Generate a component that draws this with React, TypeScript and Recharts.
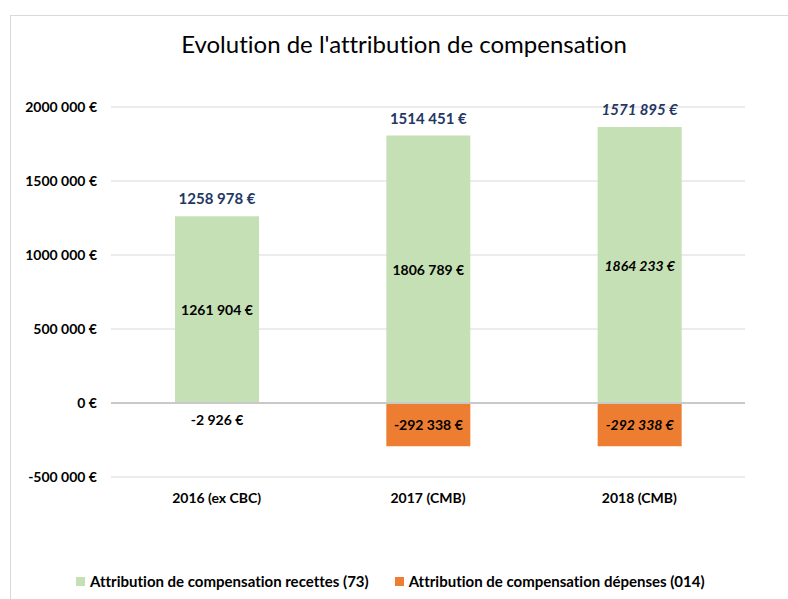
import React from 'react';
import { BarChart, Bar, XAxis, YAxis, CartesianGrid, Legend, LabelList, ReferenceLine } from 'recharts';

const categories = ['2016 (ex CBC)', '2017 (CMB)', '2018 (CMB)'];
const recettes = [1261904, 1806789, 1864233];
const depenses = [-2926, -292338, -292338];
const italicYears = [false, false, true];
const yTicks = [-500000, 0, 500000, 1000000, 1500000, 2000000];

const seriesNames = {
  recettes: 'Attribution de compensation recettes (73)',
  depenses: 'Attribution de compensation dépenses (014)',
};

const GREEN = '#C5E0B4';
const ORANGE = '#ED7D31';
const NAVY = '#1F3864';
const FONT = 'Lato, "Open Sans", sans-serif';

const data = categories.map((name, i) => ({
  name,
  recettes: recettes[i],
  depenses: depenses[i],
  total: recettes[i] + depenses[i],
}));

// excel shows "2000 000 €" style, only last group split
const fmt = (v: number) => {
  const sign = v < 0 ? '-' : '';
  const a = Math.abs(v);
  if (a < 1000) return `${sign}${a} €`;
  const th = Math.floor(a / 1000);
  const rest = String(a % 1000).padStart(3, '0');
  return `${sign}${th} ${rest} €`;
};

const TotalLabel = (props: any) => {
  const { x, y, width, index } = props;
  return (
    <text
      x={x + width / 2}
      y={y - 18}
      textAnchor="middle"
      dominantBaseline="central"
      fill={NAVY}
      fontFamily={FONT}
      fontWeight="bold"
      fontStyle={italicYears[index] ? 'italic' : 'normal'}
      fontSize={15}
    >
      {fmt(data[index].total)}
    </text>
  );
};

const InnerLabel = (props: any) => {
  const { x, y, width, height, index, value } = props;
  const h = Math.abs(height);
  const top = Math.min(y, y + height);
  const cy = h < 12 ? top + 16 : top + h / 2;
  return (
    <text
      x={x + width / 2}
      y={cy}
      textAnchor="middle"
      dominantBaseline="central"
      fill="#000"
      fontFamily={FONT}
      fontWeight="bold"
      fontStyle={italicYears[index] ? 'italic' : 'normal'}
      fontSize={14}
    >
      {fmt(value)}
    </text>
  );
};

const LegendContent = () => (
  <div style={{ display: 'flex', alignItems: 'center', fontFamily: FONT, fontWeight: 'bold', fontSize: 15, color: '#000', paddingLeft: 76 }}>
    <span style={{ width: 9, height: 9, background: GREEN, display: 'inline-block', marginRight: 5 }} />
    <span style={{ marginRight: 26 }}>{seriesNames.recettes}</span>
    <span style={{ width: 9, height: 9, background: ORANGE, display: 'inline-block', marginRight: 5 }} />
    <span>{seriesNames.depenses}</span>
  </div>
);

export default function App() {
  return (
    <div style={{ position: 'absolute', left: 0, top: 0, width: 788, height: 599, background: '#fff', overflow: 'hidden', fontVariantLigatures: 'none' }}>
      <div style={{ position: 'absolute', left: 10, top: 15, width: 800, height: 600, border: '1px solid #d9d9d9' }} />
      <div
        style={{
          position: 'absolute',
          left: 0,
          width: 808,
          top: 29,
          textAlign: 'center',
          fontFamily: FONT,
          fontSize: 24,
          color: '#000',
          fontVariantLigatures: 'none',
        }}
      >
        Evolution de l'attribution de compensation
      </div>
      <div style={{ position: 'absolute', left: 0, top: 0 }}>
        <BarChart
          width={788}
          height={599}
          data={data}
          stackOffset="sign"
          barSize={84}
          margin={{ top: 107, right: 43, bottom: 7, left: 0 }}
        >
          <CartesianGrid vertical={false} stroke="#d9d9d9" />
          <XAxis
            dataKey="name"
            axisLine={false}
            tickLine={false}
            tickSize={0}
            tickMargin={16}
            height={95}
            interval={0}
            tick={{ fontFamily: FONT, fontSize: 14, fontWeight: 'bold', fill: '#000' }}
          />
          <YAxis
            domain={[-500000, 2000000]}
            ticks={yTicks}
            axisLine={false}
            tickLine={false}
            tickSize={0}
            tickMargin={14}
            width={111}
            tickFormatter={fmt}
            tick={{ fontFamily: FONT, fontSize: 14, fontWeight: 'bold', fill: '#000' }}
          />
          <ReferenceLine y={0} stroke="#c9c9c9" strokeWidth={2} />
          <Legend verticalAlign="bottom" align="left" wrapperStyle={{ height: 20 }} content={<LegendContent />} />
          <Bar dataKey="recettes" name={seriesNames.recettes} stackId="a" fill={GREEN} isAnimationActive={false}>
            <LabelList dataKey="recettes" content={<InnerLabel />} />
            <LabelList dataKey="total" content={<TotalLabel />} />
          </Bar>
          <Bar dataKey="depenses" name={seriesNames.depenses} stackId="a" fill={ORANGE} isAnimationActive={false}>
            <LabelList dataKey="depenses" content={<InnerLabel />} />
          </Bar>
        </BarChart>
      </div>
    </div>
  );
}
